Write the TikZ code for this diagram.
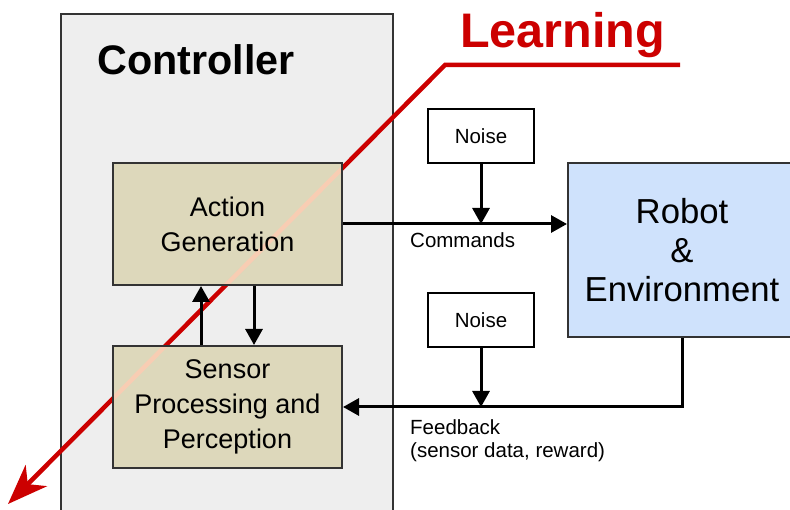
\documentclass[tikz,border=0pt]{standalone}
\usepackage{fontspec}
\setmainfont{Liberation Sans}
\usetikzlibrary{arrows.meta}
\definecolor{ctrlfill}{HTML}{EEEEEE}
\definecolor{tanfill}{HTML}{DDD8BB}
\definecolor{robotfill}{HTML}{CFE2FC}
\definecolor{learnred}{HTML}{CC0000}
\definecolor{peach}{HTML}{F8CDB3}
\definecolor{edge}{HTML}{333333}
\tikzset{
  box/.style={draw=edge, line width=2pt, inner sep=0pt, align=center},
  ctrlbox/.style={box, fill=ctrlfill},
  tanbox/.style={box, fill=tanfill, minimum width=229pt, minimum height=122pt,
     font=\fontsize{27}{35}\selectfont,
     path picture={\draw[peach, line width=4.5pt] (lk) -- (lt);}},
  noisebox/.style={box, draw=black, fill=white, minimum width=106pt, minimum height=54pt,
     font=\fontsize{20.5}{24}\selectfont},
  robotbox/.style={box, fill=robotfill, minimum width=228pt, minimum height=174pt,
     font=\fontsize{34.7}{39}\selectfont},
  arr/.style={draw=black, line width=3pt, -{Triangle[length=16pt,width=17pt]}},
  lab/.style={inner sep=0pt, font=\fontsize{20.5}{23}\selectfont, align=left},
  redline/.style={draw=learnred, line width=4.5pt, -{Stealth[length=40pt,width=30pt,inset=12pt]}}
}
\begin{document}
\begin{tikzpicture}[x=1pt,y=-1pt]
\useasboundingbox (0,0) rectangle (790,510);
\clip (0,0) rectangle (790,510);
\fill[white] (0,0) rectangle (790,510);
% controller
\node[ctrlbox, minimum width=332pt, minimum height=520pt, anchor=north west] (ctrl) at (60,13) {};
\node[font=\bfseries\fontsize{41.3}{48}\selectfont, inner sep=0pt, anchor=base] (ctitle) at (196,75) {Controller};
% learning
\node[font=\bfseries\fontsize{48.5}{56}\selectfont, text=learnred, inner sep=0pt, anchor=base] (learn) at (562.5,48) {Learning};
\coordinate (lr) at (680,65);
\coordinate (lk) at (445,65);
\coordinate (lt) at (8,504);
\draw[redline] (lr) -- (lk) -- (lt);
% inner boxes
\node[tanbox, anchor=north west] (act) at (112,162) {Action\\Generation};
\node[tanbox, anchor=north west] (sens) at (112,345) {Sensor\\Processing and\\Perception};
\node[noisebox, anchor=north west] (noise1) at (427,108) {Noise};
\node[noisebox, anchor=north west] (noise2) at (427,292) {Noise};
\node[robotbox, anchor=north west] (robot) at (567,162) {Robot\\\&\\Environment};
% connectors
\draw[arr] (act.east) -- (act.east -| robot.west);
\draw[arr] (noise1.south) -- (noise1.south |- act.east);
\node[lab, anchor=base west] (cmd) at (410,248) {Commands};
\draw[arr] ([xshift=-26.5pt]sens.north) -- ([xshift=-26.5pt]act.south);
\draw[arr] ([xshift=26.5pt]act.south) -- ([xshift=26.5pt]sens.north);
\coordinate (fb) at (682,406);
\draw[arr] (robot.south -| fb) -- (sens.east -| fb) -- (sens.east);
\draw[arr] (noise2.south) -- (noise2.south |- sens.east);
\node[lab, anchor=north west] (fbl) at (410,419.5) {Feedback\\(sensor data, reward)};
\end{tikzpicture}
\end{document}
